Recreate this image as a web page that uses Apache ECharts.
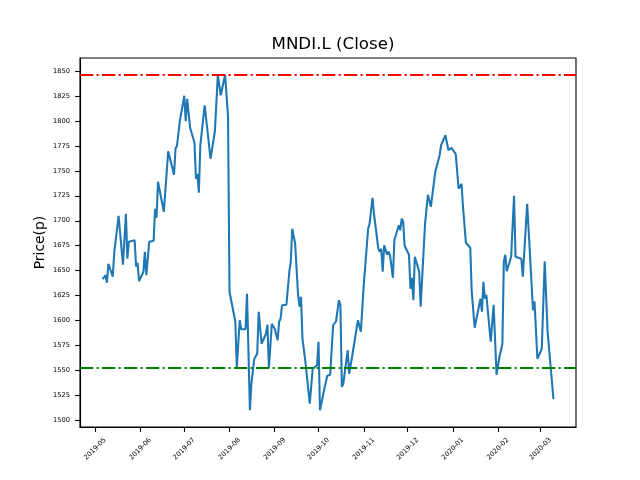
<!DOCTYPE html>
<html>
<head>
<meta charset="utf-8">
<script src="https://cdn.jsdelivr.net/npm/echarts@6/dist/echarts.min.js"></script>
<style>
html,body{margin:0;padding:0;background:#fff;}
#chart{width:640px;height:480px;}
</style>
</head>
<body>
<div id="chart"></div>
<script>
const dates = ['2019-05-06','2019-05-08','2019-05-09','2019-05-10','2019-05-13','2019-05-14','2019-05-15','2019-05-17','2019-05-20','2019-05-22','2019-05-23','2019-05-24','2019-05-28','2019-05-29','2019-05-30','2019-05-31',
'2019-06-03','2019-06-04','2019-06-05','2019-06-07','2019-06-10','2019-06-11','2019-06-12','2019-06-13','2019-06-17','2019-06-20','2019-06-24','2019-06-25','2019-06-26','2019-06-28',
'2019-07-01','2019-07-02','2019-07-03','2019-07-04','2019-07-05','2019-07-08','2019-07-09','2019-07-10','2019-07-11','2019-07-12','2019-07-15','2019-07-16','2019-07-19','2019-07-22','2019-07-24','2019-07-26','2019-07-29','2019-07-31',
'2019-08-01','2019-08-05','2019-08-06','2019-08-08','2019-08-09','2019-08-12','2019-08-13','2019-08-15','2019-08-16','2019-08-18','2019-08-20','2019-08-21','2019-08-23','2019-08-26','2019-08-27','2019-08-28','2019-08-30',
'2019-09-01','2019-09-03','2019-09-04','2019-09-05','2019-09-06','2019-09-09','2019-09-11','2019-09-12','2019-09-13','2019-09-15','2019-09-17','2019-09-18','2019-09-19','2019-09-20','2019-09-22','2019-09-25','2019-09-26','2019-09-27','2019-09-30',
'2019-10-01','2019-10-02','2019-10-05','2019-10-07','2019-10-09','2019-10-11','2019-10-13','2019-10-15','2019-10-16','2019-10-17','2019-10-18','2019-10-21','2019-10-22','2019-10-24','2019-10-28','2019-10-29','2019-10-30',
'2019-11-01','2019-11-04','2019-11-05','2019-11-07','2019-11-08','2019-11-11','2019-11-12','2019-11-13','2019-11-14','2019-11-15','2019-11-17','2019-11-18','2019-11-19','2019-11-21','2019-11-22','2019-11-23','2019-11-25','2019-11-26','2019-11-27','2019-11-28','2019-11-29',
'2019-12-02','2019-12-03','2019-12-04','2019-12-05','2019-12-06','2019-12-09','2019-12-10','2019-12-13','2019-12-15','2019-12-17','2019-12-20','2019-12-23','2019-12-24','2019-12-27','2019-12-29','2019-12-31',
'2020-01-03','2020-01-05','2020-01-07','2020-01-08','2020-01-10','2020-01-13','2020-01-14','2020-01-16','2020-01-20','2020-01-21','2020-01-22','2020-01-23','2020-01-24','2020-01-27','2020-01-29','2020-01-31',
'2020-02-02','2020-02-04','2020-02-05','2020-02-06','2020-02-07','2020-02-10','2020-02-12','2020-02-13','2020-02-17','2020-02-18','2020-02-21','2020-02-25','2020-02-26','2020-02-27','2020-02-28',
'2020-03-02','2020-03-04','2020-03-06','2020-03-10'];

const closes = [1641.5,1645.5,1638,1657,1644,1668,1668,1705,1656,1707,1662,1679,1680.5,1654,1658,1639.5,
1649,1669,1645.5,1679,1680,1712,1703,1739,1709,1769.5,1746,1772,1775,1800,
1825,1799.5,1822,1821.5,1793,1778,1742,1747,1728,1775.5,1815.5,1815,1762,1789.5,1846,1825.5,1846,1804,
1629,1599,1553,1600.5,1591.5,1591.5,1627,1510.5,1537,1562,1567,1609,1577,1587,1596,1553,1597,
1592,1580.5,1599,1602,1615.5,1616,1649,1659,1692,1677,1625.5,1614,1624,1582,1559,1517,1519,1552,1555.5,
1579,1510.5,1532,1545,1546,1595.5,1599.5,1620.5,1615.5,1534,1537,1570.5,1547,1564,1600.5,1599,1589,
1635.5,1692,1697,1723,1707,1672,1669,1672,1649,1675.5,1666,1669,1665.5,1643,1681,1685.5,1695.5,1690.5,1702,1699.5,1675,
1666,1632,1643,1620.5,1664,1649,1614,1697,1726,1714,1749,1765.5,1775.5,1785.5,1770.5,1773,
1767,1732,1737,1714,1678,1673,1629,1593,1622,1609,1639,1622,1626,1579,1616,1546,
1564,1577,1659,1666,1649.5,1664,1725,1664,1662,1644,1717,1610.5,1619.5,1619,1562,
1572,1659.5,1589,1521.5];

const upperLevel = 1846;
const lowerLevel = 1553;
const yTicks = [1500,1525,1550,1575,1600,1625,1650,1675,1700,1725,1750,1775,1800,1825,1850];
const xTickLabels = ['2019-05','2019-06','2019-07','2019-08','2019-09','2019-10','2019-11','2019-12','2020-01','2020-02','2020-03'];

function parseDay(s){ const p=s.split('-').map(Number); return Date.UTC(p[0],p[1]-1,p[2]||1); }
const times = dates.map(parseDay);
const seriesData = times.map((t,i)=>[t,closes[i]]);
const tMin = Math.min(...times), tMax = Math.max(...times);
const tPad = (tMax-tMin)*0.05;
const vMin = Math.min(...closes), vMax = Math.max(...closes);
const vPad = (vMax-vMin)*0.05;
const xTickValues = xTickLabels.map(parseDay);

const FONT = 'DejaVu Sans';
const dashDot = [13.3,3.3,2.1,3.3];

const chart = echarts.init(document.getElementById('chart'), null, {renderer:'canvas'});
chart.setOption({
  animation:false,
  backgroundColor:'#fff',
  title:{
    text:'MNDI.L (Close)',
    left:328, top:31, textAlign:'center',
    textStyle:{fontFamily:FONT,fontSize:16.7,fontWeight:'normal',color:'#000'}
  },
  graphic:[{
    type:'text', x:40, y:242.5, rotation:Math.PI/2, silent:true,
    style:{text:'Price(p)', fontFamily:FONT, fontSize:13.9, fill:'#000', align:'center', verticalAlign:'middle'}
  }],
  grid:{left:80,right:64,top:58,bottom:53,show:true,borderColor:'#000',borderWidth:1.1,backgroundColor:'transparent'},
  xAxis:{
    type:'value',
    min:tMin-tPad, max:tMax+tPad,
    splitLine:{show:false},
    axisLine:{show:true,onZero:false,lineStyle:{color:'#000',width:1.1}},
    axisTick:{show:true,length:4.9,lineStyle:{color:'#000',width:1.1},customValues:xTickValues},
    axisLabel:{
      customValues:xTickValues,
      rotate:45, align:'center', verticalAlign:'middle', margin:22,
      fontFamily:FONT,fontSize:6.7,color:'#000',
      formatter:function(v){const d=new Date(v);return d.getUTCFullYear()+'-'+String(d.getUTCMonth()+1).padStart(2,'0');}
    }
  },
  yAxis:{
    type:'value',
    min:vMin-vPad, max:vMax+vPad,
    splitLine:{show:false},
    axisLine:{show:true,lineStyle:{color:'#000',width:1.1}},
    axisTick:{show:true,length:4.9,lineStyle:{color:'#000',width:1.1},customValues:yTicks},
    axisLabel:{customValues:yTicks,margin:10,fontFamily:FONT,fontSize:6.7,color:'#000',
      formatter:function(v){return String(v);}}
  },
  series:[{
    type:'line',
    data:seriesData,
    showSymbol:false,
    symbol:'none',
    lineStyle:{color:'#1f77b4',width:2.08},
    markLine:{
      silent:true,
      symbol:['none','none'],
      label:{show:false},
      animation:false,
      data:[
        {yAxis:upperLevel,lineStyle:{color:'#ff0000',width:2.08,type:dashDot}},
        {yAxis:lowerLevel,lineStyle:{color:'#008000',width:2.08,type:dashDot}}
      ]
    }
  }]
});
</script>
</body>
</html>
